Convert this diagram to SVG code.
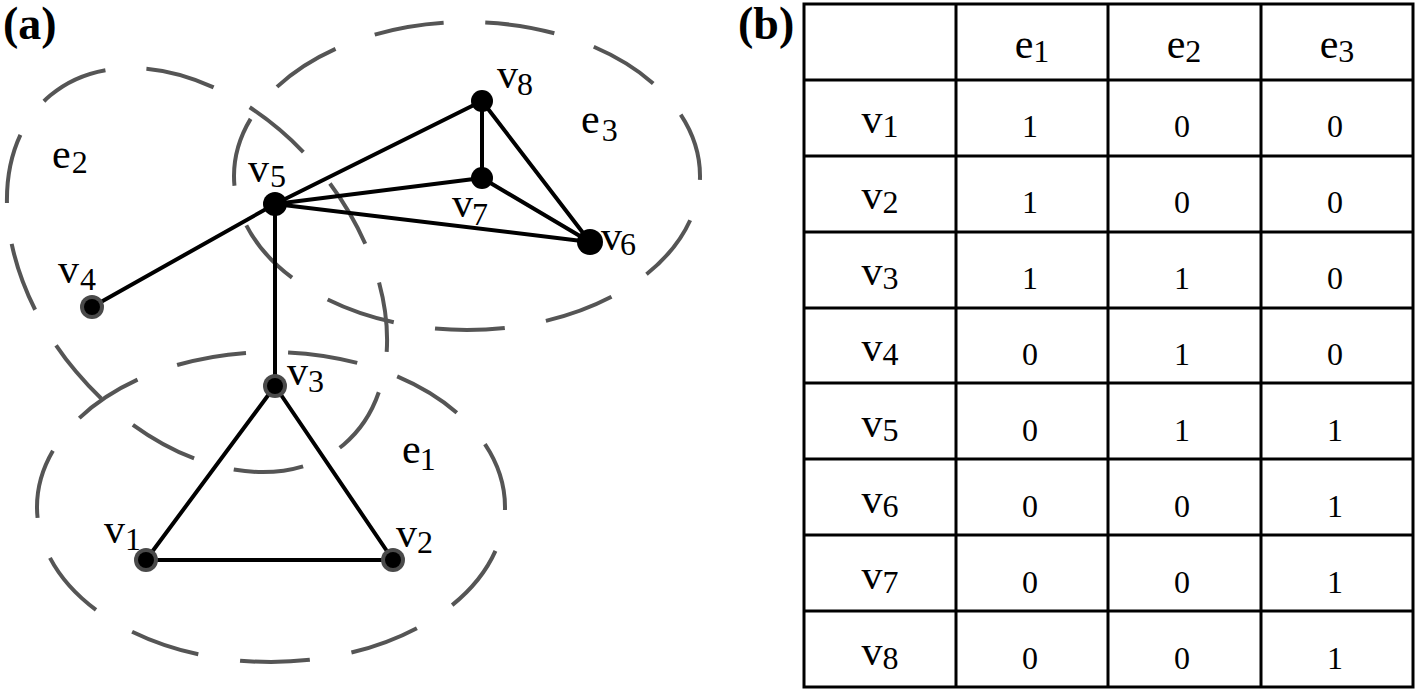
<svg xmlns="http://www.w3.org/2000/svg" width="1418" height="690" viewBox="0 0 1418 690">
<style>
.bg{fill:#fff}
.he{fill:none;stroke:#555;stroke-width:4}
.edge{stroke:#000;stroke-width:4;stroke-linecap:round}
.dot{fill:#000}
.ring{fill:#4a4a4a}
.t{font-family:"Liberation Serif","Times New Roman",serif;fill:#000}
.l{font-size:42px}
.d{font-size:32px}
.p{font-size:46px;font-weight:bold}
.grid{stroke:#000;stroke-width:3;fill:none}
.c{text-anchor:middle}
</style>
<rect class="bg" x="0" y="0" width="1418" height="690"/>

<!-- panel (a) -->
<text class="t p" x="3" y="39">(a)</text>

<g id="hyperedges">
  <ellipse id="e1" class="he" cx="271" cy="507" rx="234" ry="155" style="stroke-dasharray:70 42.2;stroke-dashoffset:67"/>
  <ellipse id="e3" class="he" cx="467" cy="176" rx="233" ry="154" style="stroke-dasharray:70 41.7;stroke-dashoffset:66"/>
  <ellipse id="e2" class="he" cx="0" cy="0" rx="228" ry="158" transform="translate(197 270) rotate(50)" style="stroke-dasharray:70 41.2;stroke-dashoffset:65"/>
</g>

<g id="connectors">
  <line class="edge" x1="275" y1="204" x2="482" y2="101"/>
  <line class="edge" x1="275" y1="204" x2="482" y2="178"/>
  <line class="edge" x1="275" y1="204" x2="590" y2="242"/>
  <line class="edge" x1="482" y1="101" x2="482" y2="178"/>
  <line class="edge" x1="482" y1="178" x2="590" y2="242"/>
  <line class="edge" x1="482" y1="101" x2="590" y2="242"/>
  <line class="edge" x1="275" y1="204" x2="92" y2="307"/>
  <line class="edge" x1="275" y1="204" x2="275" y2="386"/>
  <line class="edge" x1="275" y1="386" x2="146" y2="560"/>
  <line class="edge" x1="275" y1="386" x2="393" y2="560"/>
  <line class="edge" x1="146" y1="560" x2="393" y2="560"/>
</g>

<g id="v1"><circle class="ring" cx="146" cy="560" r="12"/><circle class="dot" cx="146" cy="560" r="8"/>
  <text class="t" x="104" y="543"><tspan class="l">v</tspan><tspan class="d" dy="7">1</tspan></text></g>
<g id="v2"><circle class="ring" cx="393" cy="560" r="12"/><circle class="dot" cx="393" cy="560" r="8"/>
  <text class="t" x="396" y="547"><tspan class="l">v</tspan><tspan class="d" dy="6">2</tspan></text></g>
<g id="v3"><circle class="ring" cx="275" cy="386" r="12"/><circle class="dot" cx="275" cy="386" r="8"/>
  <text class="t" x="287" y="385"><tspan class="l">v</tspan><tspan class="d" dy="7">3</tspan></text></g>
<g id="v4"><circle class="ring" cx="92" cy="307" r="12"/><circle class="dot" cx="92" cy="307" r="8"/>
  <text class="t" x="58" y="283"><tspan class="l">v</tspan><tspan class="d" dx="1" dy="7">4</tspan></text></g>
<g id="v5"><circle class="dot" cx="275" cy="204" r="12"/>
  <text class="t" x="248" y="182"><tspan class="l">v</tspan><tspan class="d" dx="1" dy="5">5</tspan></text></g>
<g id="v6"><circle class="dot" cx="590" cy="242" r="13"/>
  <text class="t" x="601" y="250"><tspan class="l">v</tspan><tspan class="d" dx="-2" dy="5">6</tspan></text></g>
<g id="v7"><circle class="dot" cx="482" cy="178" r="11"/>
  <text class="t" x="452" y="217"><tspan class="l">v</tspan><tspan class="d" dx="-1" dy="8">7</tspan></text></g>
<g id="v8"><circle class="dot" cx="482" cy="101" r="11"/>
  <text class="t" x="497" y="88"><tspan class="l">v</tspan><tspan class="d" dx="-1" dy="7">8</tspan></text></g>

<g id="label-e1"><text class="t" x="402" y="463"><tspan class="l">e</tspan><tspan class="d" dx="-1" dy="7">1</tspan></text></g>
<g id="label-e2"><text class="t" x="52" y="168"><tspan class="l">e</tspan><tspan class="d" dx="1" dy="5">2</tspan></text></g>
<g id="label-e3"><text class="t" x="581" y="133"><tspan class="l">e</tspan><tspan class="d" dx="2" dy="8">3</tspan></text></g>

<!-- panel (b) -->
<text class="t p" x="738" y="39">(b)</text>

<g id="table">
  <rect class="grid" x="804" y="4" width="609" height="683"/>
  <g class="grid">
    <line x1="956" y1="4" x2="956" y2="687"/>
    <line x1="1108" y1="4" x2="1108" y2="687"/>
    <line x1="1261" y1="4" x2="1261" y2="687"/>
    <line x1="804" y1="80" x2="1413" y2="80"/>
    <line x1="804" y1="156" x2="1413" y2="156"/>
    <line x1="804" y1="232" x2="1413" y2="232"/>
    <line x1="804" y1="308" x2="1413" y2="308"/>
    <line x1="804" y1="383" x2="1413" y2="383"/>
    <line x1="804" y1="459" x2="1413" y2="459"/>
    <line x1="804" y1="535" x2="1413" y2="535"/>
    <line x1="804" y1="611" x2="1413" y2="611"/>
  </g>
  <g class="t">
    <text x="1032" y="58" class="c"><tspan class="l">e</tspan><tspan class="d" dy="4">1</tspan></text>
    <text x="1184" y="58" class="c"><tspan class="l">e</tspan><tspan class="d" dy="4">2</tspan></text>
    <text x="1337" y="58" class="c"><tspan class="l">e</tspan><tspan class="d" dy="4">3</tspan></text>

    <text x="880" y="133" class="c"><tspan class="l">v</tspan><tspan class="d" dy="4">1</tspan></text>
    <text x="880" y="209" class="c"><tspan class="l">v</tspan><tspan class="d" dy="4">2</tspan></text>
    <text x="880" y="285" class="c"><tspan class="l">v</tspan><tspan class="d" dy="4">3</tspan></text>
    <text x="880" y="361" class="c"><tspan class="l">v</tspan><tspan class="d" dy="4">4</tspan></text>
    <text x="880" y="437" class="c"><tspan class="l">v</tspan><tspan class="d" dy="4">5</tspan></text>
    <text x="880" y="513" class="c"><tspan class="l">v</tspan><tspan class="d" dy="4">6</tspan></text>
    <text x="880" y="589" class="c"><tspan class="l">v</tspan><tspan class="d" dy="4">7</tspan></text>
    <text x="880" y="665" class="c"><tspan class="l">v</tspan><tspan class="d" dy="4">8</tspan></text>
  </g>
  <g class="t d c">
    <text x="1030" y="137">1</text><text x="1182" y="137">0</text><text x="1335" y="137">0</text>
    <text x="1030" y="213">1</text><text x="1182" y="213">0</text><text x="1335" y="213">0</text>
    <text x="1030" y="289">1</text><text x="1182" y="289">1</text><text x="1335" y="289">0</text>
    <text x="1030" y="365">0</text><text x="1182" y="365">1</text><text x="1335" y="365">0</text>
    <text x="1030" y="441">0</text><text x="1182" y="441">1</text><text x="1335" y="441">1</text>
    <text x="1030" y="517">0</text><text x="1182" y="517">0</text><text x="1335" y="517">1</text>
    <text x="1030" y="593">0</text><text x="1182" y="593">0</text><text x="1335" y="593">1</text>
    <text x="1030" y="669">0</text><text x="1182" y="669">0</text><text x="1335" y="669">1</text>
  </g>
</g>
</svg>
